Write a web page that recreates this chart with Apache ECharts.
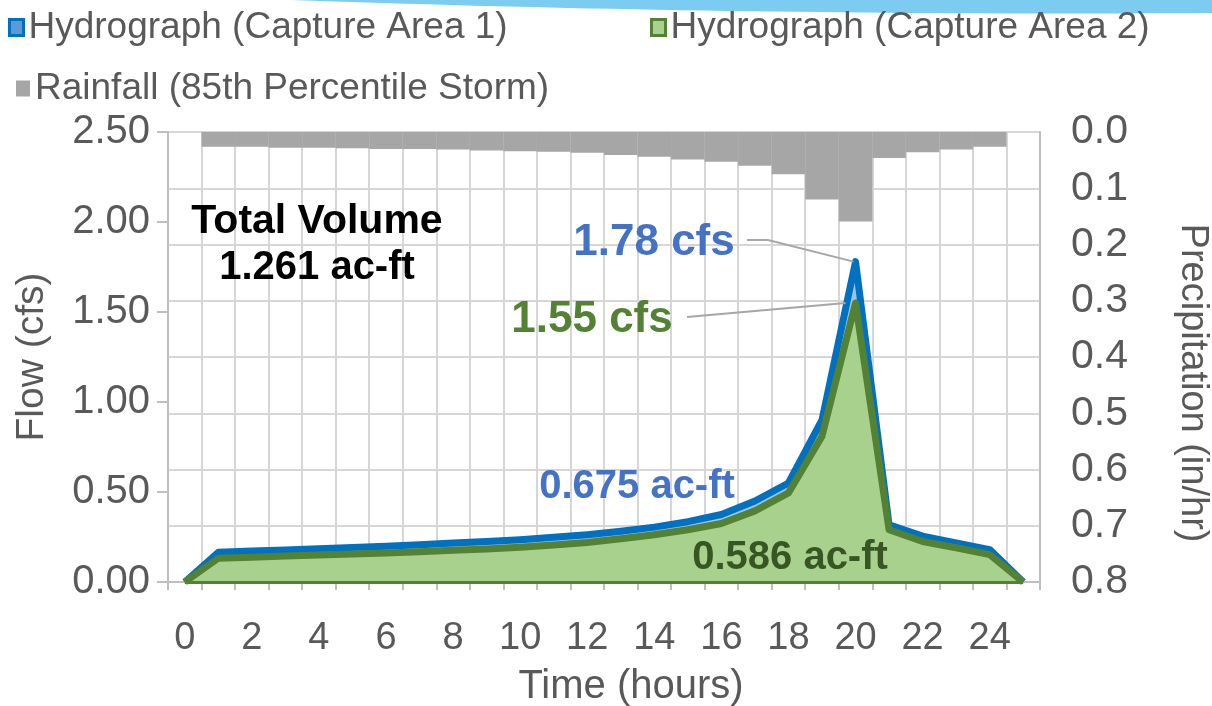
<!DOCTYPE html>
<html><head><meta charset="utf-8">
<script src="https://cdn.jsdelivr.net/npm/echarts@6/dist/echarts.min.js"></script>
<style>html,body{margin:0;padding:0;background:#fff}#c{width:1212px;height:706px}</style>
</head><body><div id="c"></div>
<script>
// ---- data ----
const hours = ['0','1','2','3','4','5','6','7','8','9','10','11','12','13','14','15','16','17','18','19','20','21','22','23','24','25'];
const flowArea1 = [0, 0.165, 0.172, 0.178, 0.185, 0.191, 0.198, 0.207, 0.216, 0.225, 0.235, 0.248, 0.263, 0.282, 0.305, 0.335, 0.375, 0.45, 0.55, 0.90, 1.78, 0.318, 0.255, 0.217, 0.18, 0];
const flowArea2 = [0, 0.132, 0.138, 0.144, 0.150, 0.155, 0.161, 0.168, 0.176, 0.184, 0.193, 0.205, 0.220, 0.240, 0.263, 0.29, 0.325, 0.395, 0.495, 0.81, 1.55, 0.290, 0.225, 0.19, 0.152, 0];
const rainfall = [null, 0.026, 0.026, 0.028, 0.028, 0.029, 0.030, 0.030, 0.031, 0.033, 0.034, 0.035, 0.037, 0.041, 0.044, 0.049, 0.053, 0.060, 0.075, 0.120, 0.159, 0.046, 0.036, 0.031, 0.026, null];
const flowTicks = ['0.00','0.50','1.00','1.50','2.00','2.50'];
const precipTicks = ['0.0','0.1','0.2','0.3','0.4','0.5','0.6','0.7','0.8'];
const seriesNames = ['Hydrograph (Capture Area 1)','Hydrograph (Capture Area 2)','Rainfall (85th Percentile Storm)'];
const annotations = {total: ['Total Volume','1.261 ac-ft'], peak1: '1.78 cfs', peak2: '1.55 cfs', vol1: '0.675 ac-ft', vol2: '0.586 ac-ft'};

const FONT = '"Liberation Sans", Arial, sans-serif';
const GREY_TXT = '#595959';
const chart = echarts.init(document.getElementById('c'), null, {renderer: 'canvas'});

const fMin = +flowTicks[0], fMax = +flowTicks[flowTicks.length-1], fInt = +flowTicks[1] - +flowTicks[0];
const pMin = +precipTicks[0], pMax = +precipTicks[precipTicks.length-1], pInt = +(+precipTicks[1] - +precipTicks[0]).toFixed(2);

function legendFor(name, left, top, fill, border) {
  return {
    data: [name], left: left, top: top, padding: 0, icon: 'rect',
    itemWidth: 14, itemHeight: 16,
    itemStyle: {color: fill, borderColor: border, borderWidth: border ? 3 : 0},
    textStyle: {fontFamily: FONT, fontSize: 37, color: GREY_TXT, padding: [0,0,0,0]},
    selectedMode: false
  };
}

chart.setOption({
  animation: false,
  backgroundColor: '#fff',
  textStyle: {fontFamily: FONT},
  grid: {left: 168, right: 172, top: 132, bottom: 124, containLabel: false, outerBoundsMode: 'none'},
  legend: [
    legendFor(seriesNames[0], 8, 9, '#5B9BD5', '#0070C0'),
    legendFor(seriesNames[1], 650, 9, '#A9D18E', '#548235'),
    legendFor(seriesNames[2], 16, 70, '#A6A6A6', null)
  ],
  xAxis: {
    type: 'category', data: hours, boundaryGap: true,
    axisLine: {lineStyle: {color: '#BFBFBF', width: 2}},
    axisTick: {show: true, interval: 0, length: 8, lineStyle: {color: '#BFBFBF', width: 2}},
    axisLabel: {interval: 1, fontSize: 38, color: GREY_TXT, margin: 38, fontFamily: FONT},
    splitLine: {show: true, interval: 0, lineStyle: {color: '#D6D6D6', width: 2}},
    name: 'Time (hours)', nameLocation: 'middle', nameGap: 85,
    nameTextStyle: {fontSize: 40, color: GREY_TXT, fontFamily: FONT, padding: [0,0,0,54]}
  },
  yAxis: [
    {
      type: 'value', min: fMin, max: fMax, interval: fInt,
      axisLine: {show: true, lineStyle: {color: '#BFBFBF', width: 2}},
      axisTick: {show: true, length: 11, lineStyle: {color: '#BFBFBF', width: 2}},
      axisLabel: {fontSize: 40, color: GREY_TXT, margin: 18, fontFamily: FONT,
        formatter: v => flowTicks[Math.round((v - fMin) / fInt)]},
      splitLine: {show: false},
      name: 'Flow (cfs)', nameLocation: 'middle', nameGap: 116, nameRotate: 90,
      nameTextStyle: {fontSize: 39, color: GREY_TXT, fontFamily: FONT}
    },
    {
      type: 'value', min: pMin, max: pMax, interval: pInt, inverse: true, position: 'right',
      axisLine: {show: true, lineStyle: {color: '#BFBFBF', width: 2}},
      axisTick: {show: false},
      axisLabel: {fontSize: 41, color: GREY_TXT, margin: 31, fontFamily: FONT,
        formatter: v => precipTicks[Math.round((v - pMin) / pInt)]},
      splitLine: {show: true, lineStyle: {color: '#D6D6D6', width: 2}},
      name: 'Precipitation (in/hr)', nameLocation: 'middle', nameGap: 133, nameRotate: -90,
      nameTextStyle: {fontSize: 38, color: GREY_TXT, fontFamily: FONT, padding: [0,0,0,52]}
    }
  ],
  series: [
    {
      name: seriesNames[2], type: 'bar', yAxisIndex: 1, data: rainfall,
      barCategoryGap: '0%', barGap: '0%', itemStyle: {color: '#A6A6A6'}, z: 1
    },
    {
      name: seriesNames[0], type: 'line', data: flowArea1, symbol: 'none', showSymbol: false,
      itemStyle: {color: '#0070C0'},
      lineStyle: {color: '#0070C0', width: 7, join: 'round'},
      areaStyle: {color: '#9DC3E6', opacity: 1}, z: 2
    },
    {
      name: seriesNames[1], type: 'line', data: flowArea2, symbol: 'none', showSymbol: false,
      itemStyle: {color: '#548235'},
      lineStyle: {color: '#548235', width: 7, join: 'round'},
      areaStyle: {color: '#A9D18E', opacity: 1}, z: 3,
      markLine: {
        silent: true, symbol: 'none', label: {show: false},
        lineStyle: {color: '#548235', width: 3, type: 'solid'},
        data: [[{coord: [hours[0], 0]}, {coord: [hours[hours.length - 1], 0]}]]
      }
    }
  ]
});

// annotations: leader lines end at the peaks (positions computed from data)
const peakIdx = flowArea1.indexOf(Math.max(...flowArea1));
const p1 = chart.convertToPixel({xAxisIndex: 0, yAxisIndex: 0}, [peakIdx, flowArea1[peakIdx]]);
const p2 = chart.convertToPixel({xAxisIndex: 0, yAxisIndex: 0}, [peakIdx, flowArea2[peakIdx]]);
const boldTxt = (text, x, y, color, size) => ({
  type: 'text', z: 100,
  style: {text: text, x: x, y: y, fill: color, font: 'bold ' + size + 'px ' + FONT, textAlign: 'center', textVerticalAlign: 'middle'}
});
// light-blue slide decoration along the top edge (quadratic curve sampled into a polygon)
const deco = [];
for (let i = 0; i <= 40; i++) {
  const t = i / 40, a = (1 - t) * (1 - t), b = 2 * t * (1 - t), c = t * t;
  deco.push([a * 290 + b * 750 + c * 1212, a * 0 + b * 16 + c * 13]);
}
deco.push([1212, 0]);
chart.setOption({
  graphic: [
    {type: 'polygon', z: 0, shape: {points: deco}, style: {fill: '#7CCBF1'}},
    boldTxt(annotations.total[0], 317, 222, '#000000', 41),
    boldTxt(annotations.total[1], 317, 268, '#000000', 40),
    boldTxt(annotations.peak1, 654, 243, '#4472C4', 44),
    boldTxt(annotations.peak2, 592, 320, '#548235', 44),
    boldTxt(annotations.vol1, 637, 487, '#4472C4', 40),
    boldTxt(annotations.vol2, 790, 558, '#375623', 40),
    {type: 'polyline', z: 99, shape: {points: [[747, 240], [768, 240], [p1[0] - 2, p1[1]]]}, style: {stroke: '#A6A6A6', lineWidth: 2, fill: null}},
    {type: 'polyline', z: 99, shape: {points: [[687, 317], [p2[0] - 10, p2[1]]]}, style: {stroke: '#A6A6A6', lineWidth: 2, fill: null}}
  ]
});
</script>
</body></html>
